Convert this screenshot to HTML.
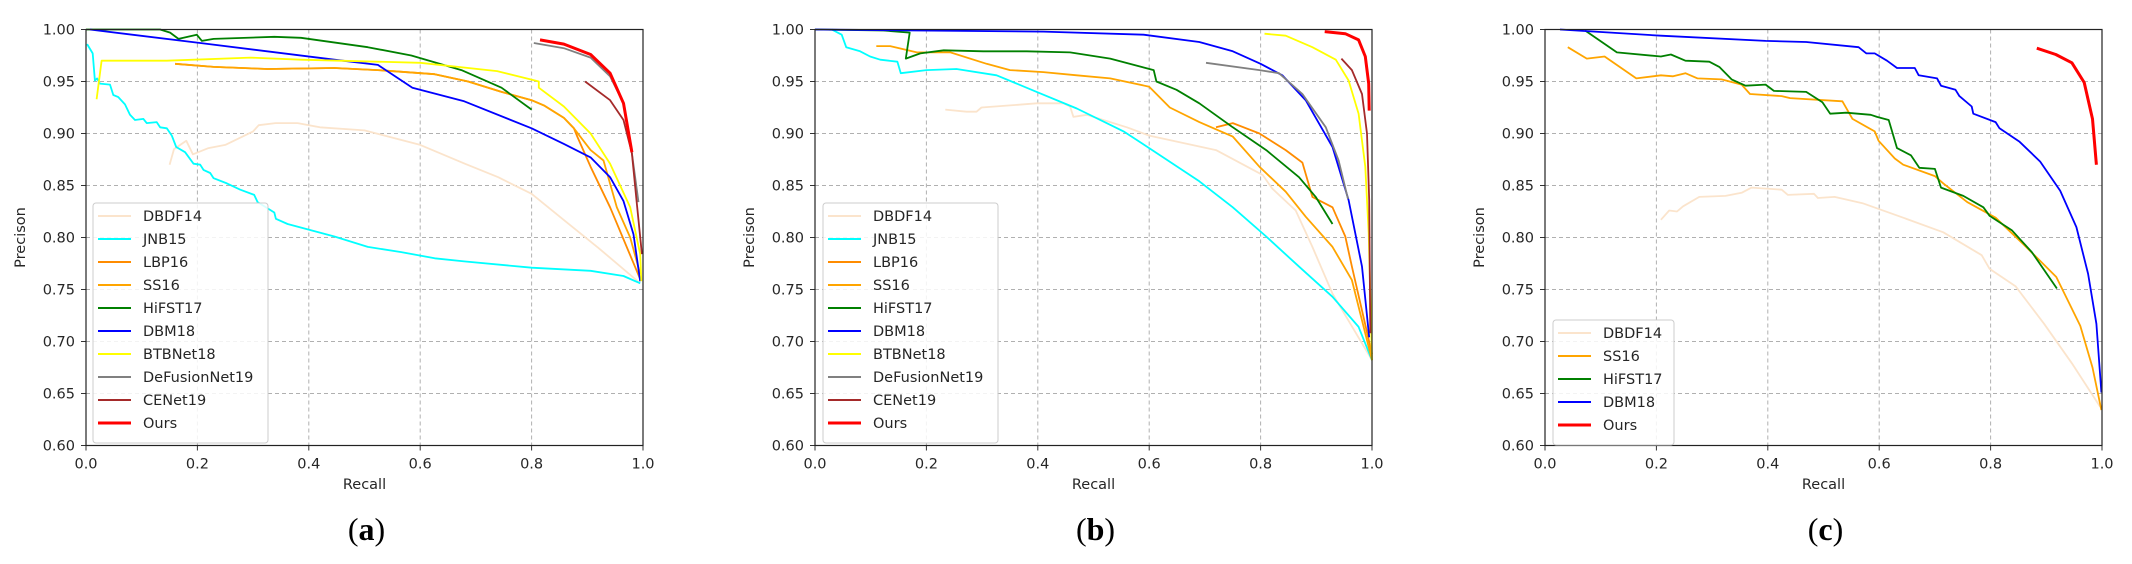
<!DOCTYPE html>
<html><head><meta charset="utf-8">
<style>
html,body{margin:0;padding:0;background:#fff;}
svg{display:block;font-family:"DejaVu Sans","Liberation Sans",sans-serif;}
</style></head>
<body>
<svg id="chart" width="2132" height="564" viewBox="0 0 2132 564"></svg>
<script>
// ---------- shared tick data ----------
const xTicks = [0.0, 0.2, 0.4, 0.6, 0.8, 1.0];
const xTickLabels = ["0.0","0.2","0.4","0.6","0.8","1.0"];
const yTicks = [0.60,0.65,0.70,0.75,0.80,0.85,0.90,0.95,1.00];
const yTickLabels = ["0.60","0.65","0.70","0.75","0.80","0.85","0.90","0.95","1.00"];
const panelLabels = ["a","b","c"];

// ---------- panel (a) series ----------
const a_DBDF14 = [[0.15,0.87],[0.158,0.885],[0.18,0.893],[0.192,0.880],[0.22,0.886],[0.25,0.889],[0.3,0.902],[0.31,0.908],[0.34,0.910],[0.38,0.910],[0.42,0.906],[0.5,0.903],[0.6,0.889],[0.68,0.871],[0.74,0.858],[0.8,0.842],[0.86,0.816],[0.92,0.79],[0.995,0.756]];
const a_JNB15 = [[0.002,0.986],[0.012,0.977],[0.016,0.951],[0.02,0.953],[0.025,0.948],[0.043,0.947],[0.049,0.937],[0.058,0.935],[0.07,0.928],[0.079,0.918],[0.088,0.913],[0.103,0.914],[0.109,0.910],[0.127,0.911],[0.133,0.906],[0.145,0.905],[0.154,0.898],[0.162,0.887],[0.178,0.882],[0.193,0.871],[0.205,0.870],[0.211,0.865],[0.223,0.862],[0.229,0.857],[0.253,0.852],[0.277,0.846],[0.302,0.841],[0.308,0.834],[0.338,0.824],[0.341,0.818],[0.362,0.813],[0.404,0.807],[0.446,0.801],[0.506,0.791],[0.566,0.786],[0.626,0.780],[0.679,0.777],[0.8,0.771],[0.906,0.768],[0.965,0.763],[0.995,0.756]];
const a_LBP16 = [[0.16,0.967],[0.229,0.964],[0.326,0.962],[0.446,0.963],[0.524,0.961],[0.626,0.957],[0.686,0.950],[0.746,0.940],[0.8,0.932],[0.822,0.927],[0.858,0.915],[0.876,0.905],[0.882,0.897],[0.906,0.868],[0.941,0.829],[0.995,0.76]];
const a_SS16 = [[0.16,0.967],[0.229,0.964],[0.326,0.962],[0.446,0.963],[0.524,0.961],[0.626,0.957],[0.686,0.950],[0.746,0.940],[0.8,0.932],[0.822,0.927],[0.858,0.915],[0.876,0.905],[0.906,0.884],[0.929,0.874],[0.953,0.829],[0.977,0.8],[0.995,0.765]];
const a_HiFST17 = [[0,1],[0.133,1],[0.151,0.997],[0.166,0.991],[0.199,0.995],[0.208,0.989],[0.229,0.991],[0.338,0.993],[0.386,0.992],[0.506,0.983],[0.584,0.975],[0.674,0.961],[0.746,0.944],[0.8,0.923]];
const a_DBM18 = [[0.007,1.0],[0.205,0.987],[0.446,0.971],[0.524,0.966],[0.586,0.944],[0.679,0.931],[0.8,0.905],[0.858,0.890],[0.906,0.877],[0.941,0.858],[0.965,0.835],[0.983,0.803],[0.995,0.758]];
const a_BTBNet18 = [[0.019,0.933],[0.028,0.970],[0.145,0.970],[0.295,0.973],[0.386,0.971],[0.6,0.968],[0.738,0.960],[0.798,0.952],[0.813,0.950],[0.813,0.944],[0.858,0.926],[0.906,0.9],[0.941,0.871],[0.977,0.829],[0.995,0.784],[0.997,0.758]];
const a_DeFusionNet19 = [[0.804,0.987],[0.858,0.982],[0.906,0.973],[0.941,0.955],[0.965,0.929],[0.98,0.881],[0.992,0.834]];
const a_CENet19 = [[0.896,0.95],[0.941,0.932],[0.965,0.913],[0.98,0.881],[0.989,0.832],[0.998,0.784]];
const a_Ours = [[0.815,0.990],[0.858,0.986],[0.906,0.976],[0.941,0.958],[0.965,0.929],[0.98,0.882]];

// ---------- panel (b) series ----------
const b_DBDF14 = [[0.234,0.923],[0.272,0.921],[0.29,0.921],[0.299,0.925],[0.35,0.927],[0.398,0.929],[0.446,0.929],[0.458,0.926],[0.464,0.916],[0.488,0.918],[0.56,0.906],[0.6,0.898],[0.72,0.884],[0.804,0.86],[0.821,0.847],[0.863,0.826],[0.893,0.791],[0.929,0.746],[1.0,0.682]];
const b_JNB15 = [[0.03,1.0],[0.048,0.995],[0.056,0.983],[0.081,0.979],[0.099,0.974],[0.117,0.971],[0.148,0.969],[0.154,0.958],[0.2,0.961],[0.254,0.962],[0.326,0.956],[0.398,0.940],[0.47,0.924],[0.554,0.902],[0.6,0.886],[0.69,0.854],[0.75,0.829],[0.81,0.801],[0.869,0.772],[0.929,0.743],[0.976,0.714],[1.0,0.682]];
const b_LBP16 = [[0.72,0.906],[0.75,0.91],[0.798,0.9],[0.845,0.884],[0.875,0.872],[0.893,0.839],[0.929,0.829],[0.952,0.801],[0.964,0.772],[1.0,0.688]];
const b_SS16 = [[0.11,0.984],[0.135,0.984],[0.183,0.978],[0.243,0.978],[0.308,0.967],[0.35,0.961],[0.41,0.959],[0.47,0.956],[0.53,0.953],[0.6,0.945],[0.637,0.925],[0.69,0.911],[0.75,0.897],[0.798,0.868],[0.845,0.844],[0.881,0.82],[0.929,0.791],[0.964,0.759],[1.0,0.682]];
const b_HiFST17 = [[0,1],[0.123,0.999],[0.17,0.997],[0.163,0.972],[0.189,0.977],[0.231,0.98],[0.302,0.979],[0.38,0.979],[0.458,0.978],[0.53,0.972],[0.608,0.961],[0.613,0.95],[0.649,0.942],[0.69,0.929],[0.75,0.906],[0.81,0.884],[0.869,0.858],[0.899,0.839],[0.929,0.813]];
const b_DBM18 = [[0,1],[0.41,0.998],[0.59,0.995],[0.69,0.988],[0.75,0.979],[0.8,0.967],[0.839,0.956],[0.881,0.932],[0.929,0.887],[0.958,0.836],[0.982,0.772],[0.995,0.704]];
const b_BTBNet18 = [[0.807,0.996],[0.845,0.994],[0.893,0.983],[0.935,0.971],[0.958,0.951],[0.976,0.919],[0.988,0.868],[0.994,0.804],[1.0,0.682]];
const b_DeFusionNet19 = [[0.702,0.968],[0.798,0.961],[0.833,0.958],[0.875,0.938],[0.917,0.906],[0.94,0.874],[0.957,0.837]];
const b_CENet19 = [[0.945,0.972],[0.964,0.961],[0.982,0.938],[0.991,0.9],[0.995,0.836],[0.997,0.708]];
const b_Ours = [[0.915,0.998],[0.952,0.996],[0.976,0.990],[0.988,0.974],[0.994,0.948],[0.995,0.922]];

// ---------- panel (c) series ----------
const c_DBDF14 = [[0.208,0.817],[0.223,0.826],[0.237,0.825],[0.248,0.830],[0.277,0.839],[0.324,0.840],[0.353,0.843],[0.371,0.848],[0.425,0.846],[0.436,0.841],[0.483,0.842],[0.49,0.838],[0.52,0.839],[0.57,0.833],[0.643,0.819],[0.715,0.805],[0.784,0.783],[0.798,0.770],[0.845,0.753],[0.896,0.717],[0.946,0.679],[0.997,0.637]];
const c_SS16 = [[0.041,0.983],[0.075,0.972],[0.107,0.974],[0.164,0.953],[0.208,0.956],[0.23,0.955],[0.252,0.958],[0.274,0.953],[0.317,0.952],[0.353,0.947],[0.368,0.938],[0.425,0.936],[0.44,0.934],[0.534,0.931],[0.552,0.914],[0.592,0.902],[0.599,0.893],[0.628,0.876],[0.643,0.870],[0.7,0.859],[0.715,0.852],[0.758,0.834],[0.809,0.819],[0.86,0.793],[0.918,0.762],[0.961,0.715],[0.983,0.675],[0.999,0.634]];
const c_HiFST17 = [[0.072,0.999],[0.129,0.978],[0.208,0.974],[0.226,0.976],[0.252,0.970],[0.295,0.969],[0.313,0.964],[0.335,0.952],[0.36,0.946],[0.396,0.947],[0.411,0.941],[0.469,0.940],[0.498,0.930],[0.512,0.919],[0.541,0.920],[0.585,0.918],[0.596,0.916],[0.617,0.913],[0.632,0.886],[0.657,0.879],[0.672,0.867],[0.7,0.866],[0.711,0.848],[0.751,0.840],[0.787,0.829],[0.798,0.821],[0.838,0.807],[0.874,0.786],[0.919,0.751]];
const c_DBM18 = [[0.027,1.0],[0.208,0.994],[0.396,0.989],[0.469,0.988],[0.563,0.983],[0.577,0.977],[0.592,0.977],[0.614,0.970],[0.632,0.963],[0.664,0.963],[0.671,0.956],[0.704,0.953],[0.711,0.946],[0.737,0.942],[0.744,0.936],[0.766,0.926],[0.769,0.919],[0.809,0.911],[0.816,0.905],[0.852,0.892],[0.889,0.873],[0.925,0.845],[0.954,0.810],[0.975,0.765],[0.99,0.717],[0.999,0.651]];
const c_Ours = [[0.883,0.982],[0.917,0.976],[0.946,0.968],[0.968,0.949],[0.983,0.914],[0.99,0.870]];

const COLORS = {DBDF14:"#fbe4cc",JNB15:"#00ffff",LBP16:"#ff8c00",SS16:"#ffa500",HiFST17:"#008000",DBM18:"#0000ff",BTBNet18:"#ffff00",DeFusionNet19:"#808080",CENet19:"#a52a2a",Ours:"#ff0000"};

const panels = [
  {left:86, names:["DBDF14","JNB15","LBP16","SS16","HiFST17","DBM18","BTBNet18","DeFusionNet19","CENet19","Ours"],
   data:{DBDF14:a_DBDF14,JNB15:a_JNB15,LBP16:a_LBP16,SS16:a_SS16,HiFST17:a_HiFST17,DBM18:a_DBM18,BTBNet18:a_BTBNet18,DeFusionNet19:a_DeFusionNet19,CENet19:a_CENet19,Ours:a_Ours},
   legend:{x:93,y:203,w:175}},
  {left:815, names:["DBDF14","JNB15","LBP16","SS16","HiFST17","DBM18","BTBNet18","DeFusionNet19","CENet19","Ours"],
   data:{DBDF14:b_DBDF14,JNB15:b_JNB15,LBP16:b_LBP16,SS16:b_SS16,HiFST17:b_HiFST17,DBM18:b_DBM18,BTBNet18:b_BTBNet18,DeFusionNet19:b_DeFusionNet19,CENet19:b_CENet19,Ours:b_Ours},
   legend:{x:823,y:203,w:175}},
  {left:1545, names:["DBDF14","SS16","HiFST17","DBM18","Ours"],
   data:{DBDF14:c_DBDF14,SS16:c_SS16,HiFST17:c_HiFST17,DBM18:c_DBM18,Ours:c_Ours},
   legend:{x:1553,y:320,w:121}}
];

const NS="http://www.w3.org/2000/svg";
const svg=document.getElementById("chart");
const W=557, TOP=29.5, BOT=445.5;
function mk(tag,attrs,parent){const e=document.createElementNS(NS,tag);for(const k in attrs)e.setAttribute(k,attrs[k]);(parent||svg).appendChild(e);return e;}

panels.forEach((p,pi)=>{
  const xs=v=>p.left+v*W;
  const ys=v=>BOT-(v-0.6)/0.4*(BOT-TOP);
  const g=mk("g",{});
  
  
  // grid
  xTicks.forEach((t,i)=>{
    const l=mk("line",{x1:xs(t),x2:xs(t),y1:TOP,y2:BOT,stroke:"#b0b0b0","stroke-width":1,"stroke-dasharray":"4,3"},g);
    
    
    const tk=mk("line",{x1:xs(t),x2:xs(t),y1:BOT,y2:BOT+5,stroke:"#333","stroke-width":1},g);
    
    
    const tx=mk("text",{x:xs(t),y:BOT+23,"text-anchor":"middle","font-size":"14.5",fill:"#262626"},g);
    tx.textContent=xTickLabels[i];
    
    
  });
  yTicks.forEach((t,i)=>{
    const l=mk("line",{x1:p.left,x2:p.left+W,y1:ys(t),y2:ys(t),stroke:"#b0b0b0","stroke-width":1,"stroke-dasharray":"4,3"},g);
    
    
    const tk=mk("line",{x1:p.left-5,x2:p.left,y1:ys(t),y2:ys(t),stroke:"#333","stroke-width":1},g);
    
    
    const tx=mk("text",{x:p.left-11,y:ys(t)+5,"text-anchor":"end","font-size":"14.5",fill:"#262626"},g);
    tx.textContent=yTickLabels[i];
    
    
  });
  // series
  p.names.forEach(n=>{
    const pts=p.data[n].map(d=>xs(d[0]).toFixed(1)+","+ys(d[1]).toFixed(1)).join(" ");
    const pl=mk("polyline",{points:pts,fill:"none",stroke:COLORS[n],"stroke-width":n==="Ours"?3:1.8,"stroke-linejoin":"round"},g);
    
    
  });
  // frame
  const fr=mk("rect",{x:p.left,y:TOP,width:W,height:BOT-TOP,fill:"none",stroke:"#222","stroke-width":1.2},g);
  
  
  // axis titles
  const xl=mk("text",{x:p.left+W/2,y:489,"text-anchor":"middle","font-size":"14.5",fill:"#262626"},g);
  xl.textContent="Recall";
  
  
  const yx=p.left-61, yy=(TOP+BOT)/2;
  const yl=mk("text",{x:yx,y:yy,"text-anchor":"middle","font-size":"14.5",fill:"#262626",transform:"rotate(-90 "+yx+" "+yy+")"},g);
  yl.textContent="Precison";
  
  
  // panel label
  const pl=mk("text",{x:p.left+W/2+2,y:540,"text-anchor":"middle","font-size":"32",fill:"#000","font-family":"Liberation Serif, serif"},g);
  pl.innerHTML='(<tspan font-weight="bold">'+panelLabels[pi]+'</tspan>)';
  
  
  // legend
  const L=p.legend, n=p.names.length, lh=23;
  const lg=mk("g",{},g);
  
  
  const box=mk("rect",{x:L.x,y:L.y,width:L.w,height:n*lh+10,rx:3,fill:"#fff","fill-opacity":0.85,stroke:"#cccccc","stroke-width":1},lg);
  
  
  p.names.forEach((nm,i)=>{
    const cy=L.y+13+i*lh;
    const ln=mk("line",{x1:L.x+5,x2:L.x+38,y1:cy,y2:cy,stroke:COLORS[nm],"stroke-width":nm==="Ours"?3:2},lg);
    
    
    const t=mk("text",{x:L.x+50,y:cy+5,"font-size":"14.5",fill:"#262626"},lg);
    t.textContent=nm;
    
    
  });
});
</script>
</body></html>
